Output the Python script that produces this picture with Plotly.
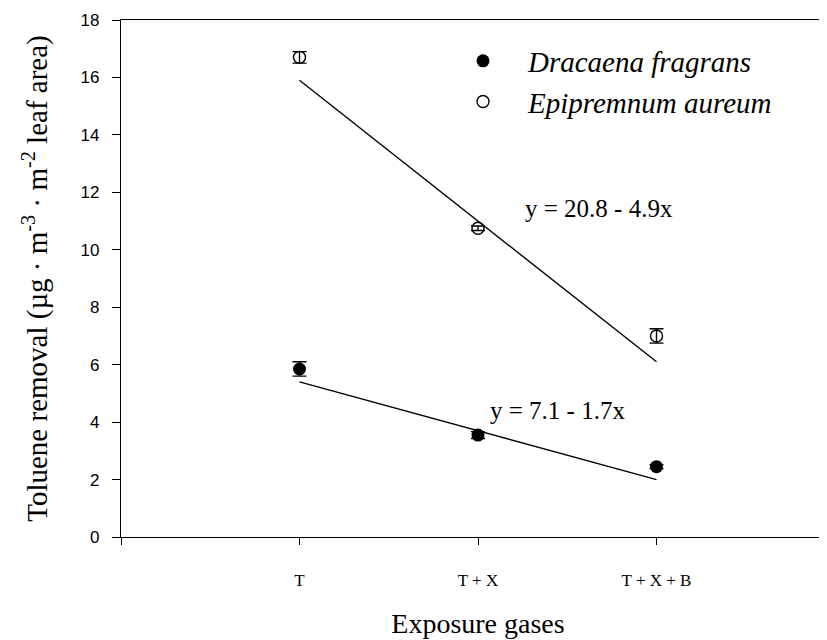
import plotly.graph_objects as go

categories = ["T", "T + X", "T + X + B"]
x_pos = [1, 2, 3]
dracaena = [5.85, 3.55, 2.45]
dracaena_err = [0.25, 0.12, 0.07]
epipremnum = [16.7, 10.75, 7.0]
epipremnum_err = [0.2, 0.08, 0.25]
fit_x = [1, 3]
dracaena_fit = [7.1 - 1.7 * v for v in fit_x]
epipremnum_fit = [20.8 - 4.9 * v for v in fit_x]

serif = "Liberation Serif"
fig = go.Figure()
fig.add_trace(go.Scatter(x=fit_x, y=epipremnum_fit, mode="lines",
                         line=dict(color="black", width=1.4), showlegend=False))
fig.add_trace(go.Scatter(x=fit_x, y=dracaena_fit, mode="lines",
                         line=dict(color="black", width=1.4), showlegend=False))
fig.add_trace(go.Scatter(x=x_pos, y=dracaena, mode="markers",
                         name="<i>Dracaena fragrans</i>",
                         marker=dict(symbol="circle", size=13, color="black"),
                         error_y=dict(type="data", array=dracaena_err, color="black",
                                      thickness=1.4, width=7)))
fig.add_trace(go.Scatter(x=x_pos, y=epipremnum, mode="markers",
                         name="<i>Epipremnum aureum</i>",
                         marker=dict(symbol="circle-open", size=12, color="black",
                                     line=dict(width=1.4)),
                         error_y=dict(type="data", array=epipremnum_err, color="black",
                                      thickness=1.4, width=7)))

fig.add_annotation(x=2.25, y=11.42, xref="x", yref="y", text="y = 20.8 - 4.9x",
                   showarrow=False, xanchor="left", yanchor="middle",
                   font=dict(family=serif, size=25, color="black"))
fig.add_annotation(x=2.054, y=4.42, xref="x", yref="y", text="y = 7.1 - 1.7x",
                   showarrow=False, xanchor="left", yanchor="middle",
                   font=dict(family=serif, size=25, color="black"))

# the page body adds an 8 px offset; margins compensate for it
fig.update_layout(
    width=827, height=640,
    margin=dict(l=113, r=0, t=12, b=111),
    plot_bgcolor="white", paper_bgcolor="white",
    showlegend=True,
    legend=dict(x=0.444, y=0.97, xanchor="left", yanchor="top",
                font=dict(family=serif, size=29, color="black"),
                bgcolor="rgba(0,0,0,0)", itemsizing="trace", itemwidth=80,
                tracegroupgap=0),
    xaxis=dict(range=[0, 4], tickvals=[0] + x_pos, ticktext=[""] + categories,
               showline=True, linecolor="black", linewidth=1.4, mirror=True,
               ticks="outside", ticklen=7, tickcolor="black", showgrid=False,
               zeroline=False, ticklabelstandoff=20, automargin=False,
               tickfont=dict(family=serif, size=17, color="black"),
               title=dict(text="Exposure gases", standoff=24,
                          font=dict(family=serif, size=28, color="black"))),
    yaxis=dict(range=[0, 18], tickvals=list(range(0, 19, 2)),
               showline=True, linecolor="black", linewidth=1.4,
               ticks="outside", ticklen=8, tickcolor="black", showgrid=False,
               zeroline=False, ticklabelstandoff=9, automargin=False,
               tickfont=dict(family="Liberation Sans", size=17, color="black"),
               title=dict(text="Toluene removal (µg · m<sup>-3</sup> · m<sup>-2</sup> leaf area)",
                          standoff=24,
                          font=dict(family=serif, size=29, color="black"))),
)
fig.write_html("out.html")
